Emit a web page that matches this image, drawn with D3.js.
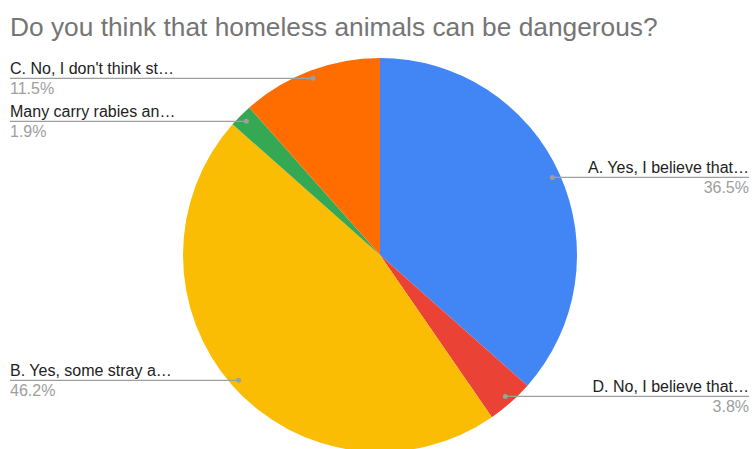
<!DOCTYPE html>
<html>
<head>
<meta charset="utf-8">
<script src="https://cdn.jsdelivr.net/npm/d3@7"></script>
<style>
  html, body { margin: 0; padding: 0; background: #fff; }
  svg { display: block; font-family: "Liberation Sans", Arial, sans-serif; }
</style>
</head>
<body>
<div id="chart"></div>
<script>
// Answers in sheet order (clockwise from 12 o'clock)
const answers = [
    "A. Yes, I believe that…",
    "D. No, I believe that…",
    "B. Yes, some stray a…",
    "Many carry rabies an…",
    "C. No, I don't think st…"
];
const responses = [19, 2, 24, 1, 6];
const sliceColors = ["#4285f4", "#ea4335", "#fbbc04", "#34a853", "#ff6d01"];

const title = "Do you think that homeless animals can be dangerous?";

const width = 752;
const height = 449;
const cx = 380;
const cy = 255;
const radius = 197;

const svg = d3.select("#chart")
    .append("svg")
    .attr("width", width)
    .attr("height", height);

svg.append("text")
    .attr("x", 10)
    .attr("y", 36)
    .attr("font-size", 26.3)
    .attr("fill", "#757575")
    .text(title);

const total = d3.sum(responses);
const fmt = d3.format(".1%");

const pie = d3.pie().sort(null).value(d => d.value);
const slices = pie(answers.map((a, i) => ({ label: a, value: responses[i], color: sliceColors[i] })));

const arc = d3.arc().innerRadius(0).outerRadius(radius);
const dotArc = d3.arc().innerRadius(189).outerRadius(189);

const g = svg.append("g").attr("transform", `translate(${cx},${cy})`);

g.selectAll("path")
    .data(slices)
    .enter()
    .append("path")
    .attr("d", arc)
    .attr("fill", d => d.data.color);

// leader lines + labels
const labelG = svg.append("g");
slices.forEach(d => {
    const [px, py] = dotArc.centroid(d);
    const x = cx + px;
    const y = cy + py;
    const mid = (d.startAngle + d.endAngle) / 2;
    const right = mid < Math.PI;
    const x2 = right ? 749 : 10;

    labelG.append("line")
        .attr("x1", x).attr("y1", y)
        .attr("x2", x2).attr("y2", y)
        .attr("stroke", "#9e9e9e")
        .attr("stroke-width", 1.3);

    labelG.append("circle")
        .attr("cx", x).attr("cy", y)
        .attr("r", 2.5)
        .attr("fill", "#9e9e9e");

    labelG.append("text")
        .attr("x", x2)
        .attr("y", y - 4)
        .attr("text-anchor", right ? "end" : "start")
        .attr("font-size", 16)
        .attr("fill", "#222")
        .text(d.data.label);

    labelG.append("text")
        .attr("x", x2)
        .attr("y", y + 16)
        .attr("text-anchor", right ? "end" : "start")
        .attr("font-size", 16)
        .attr("fill", "#9e9e9e")
        .text(fmt(d.data.value / total));
});
</script>
</body>
</html>
